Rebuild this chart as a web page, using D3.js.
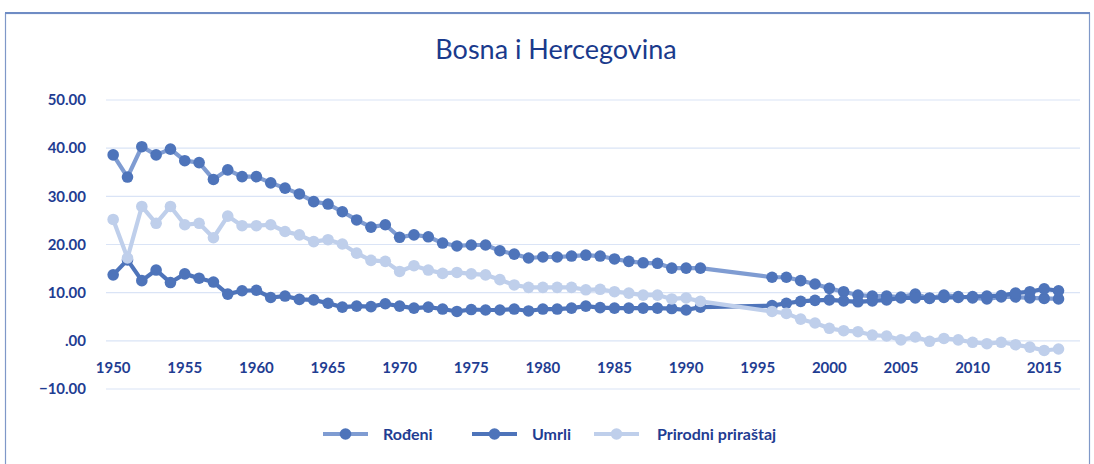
<!DOCTYPE html>
<html><head><meta charset="utf-8">
<script src="https://cdn.jsdelivr.net/npm/d3@7"></script>
<style>body{margin:0;background:#fff;}svg{display:block;font-family:Lato,"Open Sans",sans-serif;}</style>
</head><body>
<svg id="c" width="1094" height="464"></svg>
<script>
const title = "Bosna i Hercegovina";
const years = d3.range(1950, 2018);
const tickYears = [1950,1955,1960,1965,1970,1975,1980,1985,1990,1995,2000,2005,2010,2015];
const yTicks = [-10,0,10,20,30,40,50];
const seriesNames = ["Rođeni","Umrli","Prirodni priraštaj"];
const N = null;
const rodjeni = [38.6,34.0,40.3,38.6,39.8,37.4,37.0,33.5,35.5,34.1,34.1,32.8,31.7,30.5,28.9,28.4,26.8,25.1,23.6,24.1,
21.5,22.0,21.6,20.3,19.7,19.9,19.9,18.7,18.0,17.2,17.4,17.4,17.6,17.8,17.6,17.0,16.5,16.2,16.1,15.1,15.1,15.1,
N,N,N,N,13.2,13.2,12.5,11.8,10.9,10.2,9.5,9.3,9.3,9.1,9.7,8.8,9.5,9.2,8.9,8.7,9.1,9.1,8.9,8.8,8.7,N];
const umrli = [13.7,16.8,12.5,14.7,12.1,13.9,13.0,12.2,9.7,10.4,10.5,9.0,9.3,8.6,8.5,7.8,7.0,7.2,7.1,7.7,
7.2,6.8,7.0,6.6,6.1,6.5,6.4,6.4,6.6,6.2,6.6,6.6,6.8,7.2,6.9,6.8,6.8,6.8,6.8,6.7,6.4,7.0,
N,N,N,N,7.3,7.8,8.2,8.4,8.5,8.3,8.1,8.3,8.5,8.9,8.9,8.9,9.0,9.0,9.2,9.3,9.4,9.9,10.2,10.8,10.4,N];
const prirodni = [25.2,17.2,27.9,24.4,27.9,24.1,24.4,21.4,25.9,23.9,23.9,24.1,22.7,22.0,20.6,21.0,20.1,18.2,16.7,16.5,
14.4,15.6,14.7,14.0,14.2,13.9,13.7,12.7,11.6,11.1,11.1,11.1,11.1,10.6,10.7,10.2,9.9,9.5,9.5,8.7,8.9,8.2,
N,N,N,N,6.1,5.7,4.5,3.7,2.6,2.1,1.9,1.2,1.0,0.2,0.8,-0.1,0.5,0.2,-0.3,-0.6,-0.3,-0.8,-1.3,-2.0,-1.7,N];

const styles = [
  {line:"#7f9cd2", marker:"#4e74ba"},
  {line:"#4e74ba", marker:"#4e74ba"},
  {line:"#bfcfeb", marker:"#bfcfeb"}
];
const allSeries = [rodjeni, umrli, prirodni];

const svg = d3.select("#c");
// chart frame
svg.append("rect").attr("x",5.5).attr("y",13.5).attr("width",1084).attr("height",470)
  .attr("fill","#fff").attr("stroke","#7f98c8").attr("stroke-width",1.2);
svg.append("line").attr("x1",5).attr("x2",1090).attr("y1",13).attr("y2",13).attr("stroke","#6f8cc4").attr("stroke-width",2);

const x = d3.scaleBand().domain(years).range([106,1080]).padding(0);
const y = d3.scaleLinear().domain([-10,50]).range([389,100]);
const cx = d => x(d) + x.bandwidth()/2;

// gridlines
svg.append("g").selectAll("line").data(yTicks).join("line")
  .attr("x1",106).attr("x2",1080).attr("y1",d=>y(d)).attr("y2",d=>y(d))
  .attr("stroke","#dae4f6").attr("stroke-width",1.2);

const navy = "#1f3d92";
// y labels
const fmt = v => v===0 ? ".00" : d3.format(".2f")(v);
svg.append("g").selectAll("text").data(yTicks).join("text")
  .attr("x",86).attr("y",d=>y(d)).attr("dy","0.35em").attr("text-anchor","end")
  .attr("fill",navy).attr("font-size",15).attr("font-weight","bold").text(fmt);

// x labels
svg.append("g").selectAll("text").data(tickYears).join("text")
  .attr("x",d=>cx(d)).attr("y",368).attr("dy","0.35em").attr("text-anchor","middle")
  .attr("fill",navy).attr("font-size",15).attr("font-weight","bold").text(d=>d);

// title
svg.append("text").attr("x",556).attr("y",50).attr("dy","0.35em").attr("text-anchor","middle")
  .attr("fill","#1a3a8c").attr("font-size",27).text(title);

// series
allSeries.forEach((vals,i)=>{
  const pts = years.map((yr,j)=>({yr, v: vals[j]})).filter(p=>p.v!==null);
  const line = d3.line().x(p=>cx(p.yr)).y(p=>y(p.v));
  const g = svg.append("g");
  g.append("path").datum(pts).attr("d",line).attr("fill","none")
    .attr("stroke",styles[i].line).attr("stroke-width",4.2).attr("stroke-linejoin","round");
  g.selectAll("circle").data(pts).join("circle")
    .attr("cx",p=>cx(p.yr)).attr("cy",p=>y(p.v)).attr("r",5.8).attr("fill",styles[i].marker);
});

// legend
const legendItems = [{x:323, tx:383},{x:472, tx:532},{x:594, tx:657}];
legendItems.forEach((it,i)=>{
  const g = svg.append("g");
  g.append("line").attr("x1",it.x).attr("x2",it.x+45).attr("y1",434).attr("y2",434)
    .attr("stroke",styles[i].line).attr("stroke-width",4.2);
  g.append("circle").attr("cx",it.x+22.5).attr("cy",434).attr("r",5.8).attr("fill",styles[i].marker);
  g.append("text").attr("x",it.tx).attr("y",434).attr("dy","0.35em").attr("fill",navy)
    .attr("font-size",16).attr("font-weight","bold").text(seriesNames[i]);
});
</script>
</body></html>
